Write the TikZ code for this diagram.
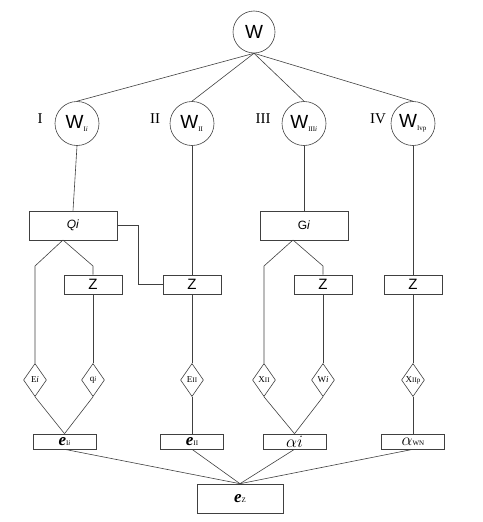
\documentclass[tikz,border=0pt]{standalone}
\usepackage{fontspec}
\setmainfont{Liberation Serif}
\setsansfont{Liberation Sans}
\usetikzlibrary{shapes.geometric}

\begin{document}
\begin{tikzpicture}[x=1pt,y=-1pt,
  line/.style={draw=black!75,line width=.6pt},
  wcirc/.style={circle,draw=black!75,line width=.6pt,minimum size=44pt,inner sep=0pt,font=\sffamily\fontsize{19}{19}\selectfont},
  box/.style={rectangle,draw=black!75,line width=.6pt,inner sep=0pt},
  bigbox/.style={box,minimum width=88pt,minimum height=29pt,font=\sffamily\fontsize{12}{12}\selectfont},
  zbox/.style={box,minimum width=58pt,minimum height=19pt,font=\sffamily\fontsize{15}{15}\selectfont},
  dmd/.style={diamond,draw=black!75,line width=.6pt,aspect=.7,minimum width=23pt,minimum height=33pt,inner sep=0pt,font=\fontsize{9}{9}\selectfont},
  ebox/.style={box,minimum width=63pt,minimum height=15pt,font=\fontsize{17}{17}\selectfont},
  roman/.style={font=\fontsize{15}{15}\selectfont}]
\useasboundingbox (0,0) rectangle (482,522);
% top and the four branches
\node[wcirc,minimum size=42pt] (w) at (254,32) {W};
\node[wcirc] (w1) at (77,123.5) {W\textsubscript{\rmfamily\scriptsize I\textit{i}}};
\node[wcirc] (w2) at (192,123.5) {W\textsubscript{\rmfamily\scriptsize II}};
\node[wcirc] (w3) at (304,123.5) {W\textsubscript{\rmfamily\scriptsize III\textit{i}}};
\node[wcirc] (w4) at (413,123.5) {W\textsubscript{\rmfamily\scriptsize Ivp}};
\node[roman] (r1) at (40,119) {I};
\node[roman] (r2) at (155,119) {II};
\node[roman] (r3) at (263,119) {III};
\node[roman] (r4) at (378,119) {IV};
\foreach \b in {w1,w2,w3,w4} \draw[line] (w.south) -- (\b.north);
% middle boxes
\node[bigbox] (q) at (73,225.5) {\textit{Qi}};
\node[bigbox] (g) at (304,225.5) {G\textit{i}};
\node[zbox] (z1) at (93,284.5) {Z};
\node[zbox] (z2) at (192,284.5) {Z};
\node[zbox] (z3) at (323,284.5) {Z};
\node[zbox] (z4) at (413,284.5) {Z};
\draw[line] (w1.south) -- (q.north);
\draw[line] (w3.south) -- (g.north);
\draw[line] (w2.south) -- (z2.north);
\draw[line] (w4.south) -- (z4.north);
\draw[line] (q.east) -- ++(21,0) |- (z2.west);
\coordinate (qb) at (63,240);
\coordinate (gb) at (293,240);
% diamonds
\node[dmd] (d1) at (35,380) {E\textit{i}};
\node[dmd] (d2) at (93,380) {q{\scriptsize\textit{i}}};
\node[dmd] (d3) at (192,380) {E{\scriptsize II}};
\node[dmd] (d4) at (264,380) {X{\scriptsize II}};
\node[dmd] (d5) at (323,380) {W\textit{i}};
\node[dmd] (d6) at (413,380) {X{\scriptsize IIp}};
\draw[line] (qb) -- (35,266) -- (d1.north);
\draw[line] (qb) -- (93,266) -- (z1.north);
\draw[line] (gb) -- (264,266) -- (d4.north);
\draw[line] (gb) -- (323,266) -- (z3.north);
\draw[line] (z1.south) -- (d2.north);
\draw[line] (z2.south) -- (d3.north);
\draw[line] (z3.south) -- (d5.north);
\draw[line] (z4.south) -- (d6.north);
% bottom boxes
\node[ebox] (e1) at (64.5,441.5) {\textbf{\textit{e}}{\scriptsize I\textit{i}}};
\node[ebox] (e2) at (192,441.5) {\textbf{\textit{e}}{\scriptsize II}};
\node[ebox] (e3) at (294.5,441.5) {$\alpha i$};
\node[ebox] (e4) at (413,441.5) {$\alpha${\scriptsize WN}};
\node[box,minimum width=86pt,minimum height=29pt,font=\fontsize{17}{17}\selectfont] (ez) at (240,498.5) {\textbf{\textit{e}}{\scriptsize Z}};
\draw[line] (d1.south) -- (e1.north);
\draw[line] (d2.south) -- (e1.north);
\draw[line] (d3.south) -- (e2.north);
\draw[line] (d4.south) -- (e3.north);
\draw[line] (d5.south) -- (e3.north);
\draw[line] (d6.south) -- (e4.north);
\foreach \b in {e1,e2,e3,e4} \draw[line] (\b.south) -- (ez.north);
\end{tikzpicture}
\end{document}
